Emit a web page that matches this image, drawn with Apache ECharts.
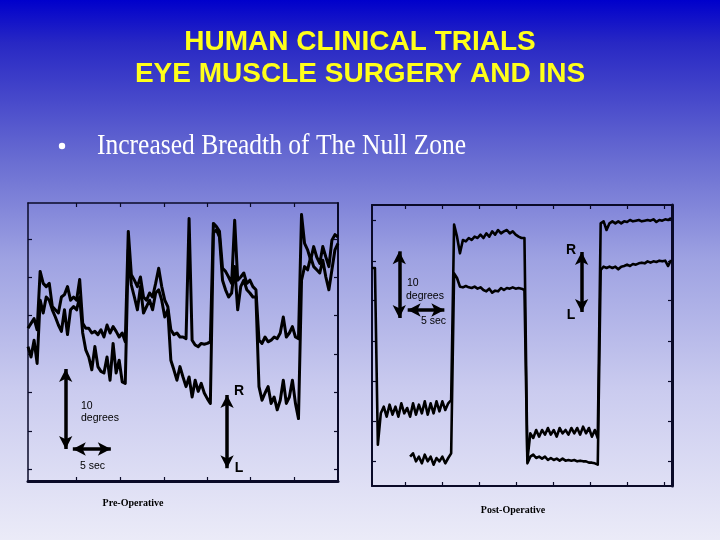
<!DOCTYPE html>
<html><head><meta charset="utf-8">
<script src="https://cdn.jsdelivr.net/npm/echarts@6/dist/echarts.min.js"></script>
<style>html,body{margin:0;padding:0;}#c{width:720px;height:540px;}</style>
</head><body><div id="c"></div>
<script>
// sampling step (seconds)
const DT = 0.4;
// Pre-operative eye position traces (degrees), one value per DT
const preA = [19.1,19.7,20.3,18.9,26.2,24.7,24.3,24.7,21.8,21.4,
 21.0,23.0,23.3,24.3,22.6,23.0,22.6,25.2,19.7,19.1,
 19.1,18.5,18.7,18.3,18.9,18.0,19.5,18.5,19.3,18.7,
 18.0,18.5,17.4,31.2,25.8,25.1,24.3,25.5,23.0,22.6,
 23.5,23.0,24.7,26.6,24.3,22.6,21.8,18.9,18.3,18.5,
 18.0,18.0,17.8,32.8,17.6,17.0,16.8,17.2,17.1,17.2,
 17.4,32.2,31.8,31.2,26.6,26.2,25.5,24.7,32.6,25.1,
 25.5,26.0,24.7,25.1,24.3,23.9,17.6,17.2,18.0,17.4,
 17.6,18.0,17.8,18.5,20.5,18.0,18.5,19.3,18.0,17.8,
 33.3,29.7,28.9,27.6,29.3,28.0,27.2,29.3,28.0,26.8,
 30.1,30.8,30.5];
const preB = [16.8,15.5,17.6,14.7,22.6,21.0,23.0,22.6,21.4,20.5,
 19.5,18.7,21.4,18.3,21.4,21.8,21.4,23.0,18.5,16.4,
 15.5,13.9,16.8,14.3,13.7,13.5,15.5,12.6,17.2,13.5,
 15.1,12.4,12.2,28.9,24.5,23.0,21.4,24.3,21.0,21.8,
 22.6,21.4,23.5,23.9,22.6,20.5,21.4,15.1,13.9,12.6,
 14.3,13.0,11.8,13.0,10.5,12.6,11.2,12.2,11.0,10.3,
 9.7,31.0,31.4,30.5,25.1,23.9,23.0,23.5,26.8,21.4,
 24.3,25.1,23.9,23.5,23.0,23.0,11.8,10.1,11.0,11.8,
 9.7,10.5,8.9,10.1,12.6,9.7,10.5,12.6,9.7,7.8,
 25.1,26.8,26.4,28.0,26.8,26.4,26.0,27.6,25.5,23.9,
 26.4,28.9,29.7];
// Post-operative eye position traces (degrees)
const postA = [32.7,32.7,6.2,10.9,11.9,10.4,12.2,10.7,11.9,10.4,
 12.4,10.9,11.7,10.4,12.4,10.7,12.2,10.9,12.7,10.7,
 12.4,10.9,12.7,11.2,12.7,11.4,12.4,12.9,39.2,37.4,
 34.9,36.9,36.7,37.2,36.9,37.4,37.2,37.7,37.2,37.9,
 37.4,38.2,37.7,38.4,37.9,38.2,38.4,37.9,38.2,37.7,
 37.4,37.2,37.2,3.9,7.9,7.2,8.4,7.4,8.4,7.7,
 8.7,7.7,8.4,7.4,8.7,7.9,8.4,7.7,8.7,7.9,
 8.7,7.7,8.9,7.9,8.7,7.4,8.4,7.2,39.4,39.7,
 38.4,39.4,39.7,39.4,39.7,39.4,39.7,39.6,39.9,39.7,
 39.8,39.9,39.7,39.8,39.9,39.8,40.0,39.6,39.9,39.8,
 40.0,39.9,40.2];
const postB = [null,null,null,null,null,null,null,null,null,null,
 null,null,null,4.4,4.9,3.7,4.4,3.4,4.7,3.7,
 4.4,3.2,4.2,3.7,4.4,3.4,4.2,4.9,31.9,31.2,
 29.9,29.8,30.0,29.8,29.7,29.9,29.6,29.8,29.4,29.2,
 29.6,29.0,29.3,29.2,29.7,29.4,29.7,29.6,29.8,29.6,
 29.7,29.6,29.4,3.4,4.4,4.7,4.2,4.4,4.1,4.4,
 3.9,4.2,3.9,4.1,3.8,4.1,3.8,3.9,3.8,3.9,
 3.7,3.8,3.7,3.7,3.5,3.5,3.4,3.2,32.4,32.9,
 32.7,32.9,32.7,32.9,32.5,32.9,33.0,33.2,33.0,33.3,
 33.2,33.4,33.5,33.4,33.7,33.5,33.7,33.6,33.8,33.7,
 33.8,33.0,33.9];
// axis ranges and tick positions
const preXRange = [0, 40.8], preYRange = [0, 34.75];
const postXRange = [0, 40.93], postYRange = [0, 42.15];
const preXTicks = [6.4, 12.2, 17.9, 23.6, 29.3, 35.0];
const preYTicks = [1.46, 6.25, 11.04, 15.84, 20.66, 25.46, 30.2];
const postXTicks = [4.5, 9.6, 14.64, 19.65, 24.73, 29.74, 34.83, 39.88];
const postYTicks = [3.65, 9.75, 15.65, 21.65, 27.9, 33.75, 39.9];
// scale bars [x1,y1,x2,y2] in data units (10 degrees / 5 sec / R-L)
const preBars = [[4.96,4.0,4.96,14.0],[5.9,4.0,10.9,4.0],[26.2,10.75,26.2,1.6]];
const postBars = [[3.72,25.2,3.72,35.2],[4.87,26.4,9.87,26.4],[28.6,35.1,28.6,26.1]];

const toPairs = arr => arr.map((v,i)=>[+(i*DT).toFixed(2), v===null?'-':v]);
const toLines = bars => bars.map(b=>[{coord:[b[0],b[1]]},{coord:[b[2],b[3]]}]);
const FR = '#0a0a28';
function ax(grid, pos, range, ticks, w) {
  return {type:'value', gridIndex:grid, position:pos, min:range[0], max:range[1],
    axisLine:{show:true, onZero:false, lineStyle:{color:FR, width:w}},
    axisTick:{show:true, inside:true, length:4, customValues:ticks, lineStyle:{color:FR, width:1.2}},
    axisLabel:{show:false}, splitLine:{show:false}};
}
function ml(bars){
  return {silent:true, symbol:['arrow','arrow'], symbolSize:[10,13], animation:false,
    lineStyle:{color:'#000', width:3.5, type:'solid'}, label:{show:false}, emphasis:{disabled:true},
    data: toLines(bars)};
}
const chart = echarts.init(document.getElementById('c'), null, {renderer:'canvas'});
const serif = '"Liberation Serif","Times New Roman",serif';
const sans = '"Liberation Sans",Arial,sans-serif';
function txt(x,y,t,font,fill,align,extra){
  return Object.assign({type:'text', x:x, y:y, silent:true, z:100,
    style:{text:t, font:font, fill:fill||'#000', align:align||'left', verticalAlign:'middle'}}, extra||{});
}
function title(y,t){
  return {type:'text', x:360, y:y, silent:true, z:100,
    style:{text:t, font:'bold 28px '+sans, fill:'#ffff1a', align:'center', verticalAlign:'middle',
      shadowColor:'rgba(0,0,50,0.7)', shadowOffsetX:1.5, shadowOffsetY:1.5, shadowBlur:1}};
}
chart.setOption({
  animation:false,
  backgroundColor: new echarts.graphic.LinearGradient(0,0,0,1,[
    {offset:0,color:'#0000cc'},{offset:0.08,color:'#2828c4'},{offset:0.3,color:'#6a6ed2'},
    {offset:0.48,color:'#9ea2e2'},{offset:0.72,color:'#cacbef'},{offset:1,color:'#ebebf8'}]),
  grid:[{left:28, top:203, width:310, height:278, show:false},
        {left:372, top:205, width:300, height:281, show:false}],
  xAxis:[ax(0,'bottom',preXRange,preXTicks,3), ax(0,'top',preXRange,preXTicks,1.5),
         ax(1,'bottom',postXRange,postXTicks,2), ax(1,'top',postXRange,postXTicks,2)],
  yAxis:[ax(0,'left',preYRange,preYTicks,1.5), ax(0,'right',preYRange,preYTicks,2),
         ax(1,'left',postYRange,postYTicks,2), ax(1,'right',postYRange,postYTicks,3)],
  series:[
    {type:'line', xAxisIndex:0, yAxisIndex:0, data:toPairs(preA), showSymbol:false, silent:true,
     lineStyle:{color:'#000', width:3, join:'round'}, markLine:ml(preBars)},
    {type:'line', xAxisIndex:0, yAxisIndex:0, data:toPairs(preB), showSymbol:false, silent:true,
     lineStyle:{color:'#000', width:3, join:'round'}},
    {type:'line', xAxisIndex:2, yAxisIndex:2, data:toPairs(postA), showSymbol:false, silent:true,
     lineStyle:{color:'#000', width:2.6, join:'round'}, markLine:ml(postBars)},
    {type:'line', xAxisIndex:2, yAxisIndex:2, data:toPairs(postB), showSymbol:false, silent:true,
     connectNulls:false, lineStyle:{color:'#000', width:2.6, join:'round'}}
  ],
  graphic:[
    title(42,'HUMAN CLINICAL TRIALS'),
    title(74,'EYE MUSCLE SURGERY AND INS'),
    {type:'circle', silent:true, z:100, shape:{cx:62, cy:146, r:3.2}, style:{fill:'#ffffff'}},
    txt(97,146,'Increased Breadth of The Null Zone','29px '+serif,'#ffffff','left',{scaleX:0.88}),
    txt(81,406,'10','10.5px '+sans),
    txt(81,418,'degrees','10.5px '+sans),
    txt(80,466,'5 sec','10.5px '+sans),
    txt(239,391,'R','bold 14px '+sans,'#000','center'),
    txt(239,468,'L','bold 14px '+sans,'#000','center'),
    txt(407,283,'10','10.5px '+sans),
    txt(406,296,'degrees','10.5px '+sans),
    txt(421,321,'5 sec','10.5px '+sans),
    txt(571,250,'R','bold 14px '+sans,'#000','center'),
    txt(571,315,'L','bold 14px '+sans,'#000','center'),
    txt(133,503,'Pre-Operative','bold 10px '+serif,'#000','center'),
    txt(513,510,'Post-Operative','bold 10px '+serif,'#000','center')
  ]
});
</script></body></html>
